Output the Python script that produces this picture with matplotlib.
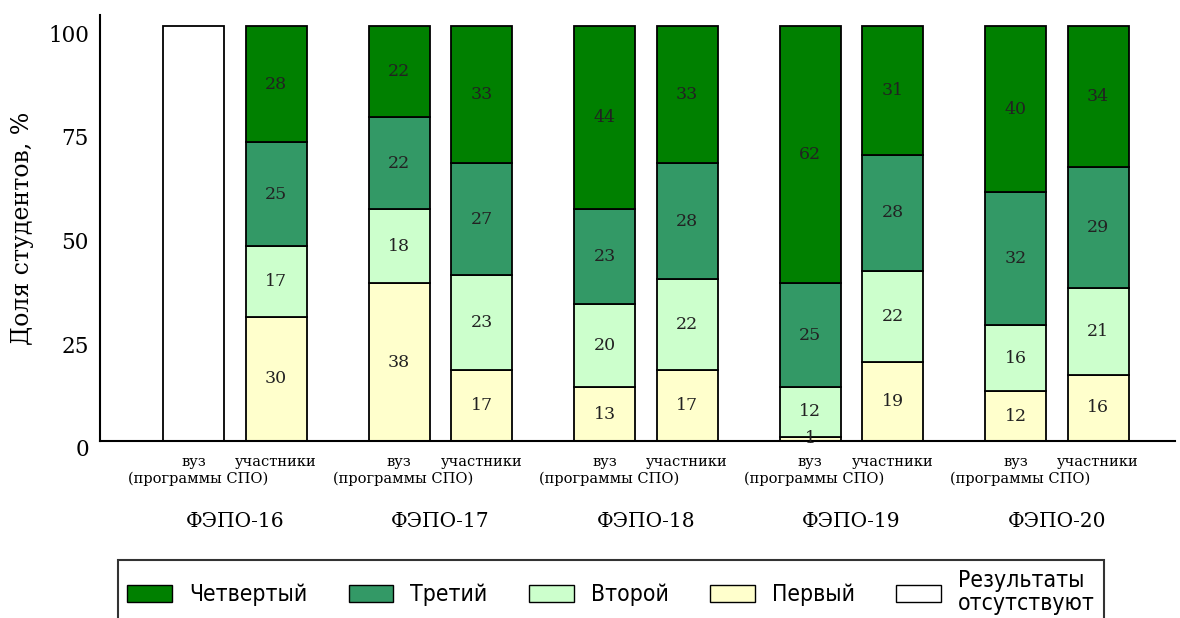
import matplotlib
matplotlib.use("Agg")
import matplotlib.pyplot as plt
import matplotlib.transforms as mtransforms
from matplotlib.patches import Patch
from matplotlib.font_manager import FontProperties
import numpy as np

groups = ["ФЭПО-16", "ФЭПО-17", "ФЭПО-18", "ФЭПО-19", "ФЭПО-20"]
sub_top = ["вуз", "участники"]
sub_bottom = "(программы СПО)"
levels = ["Первый", "Второй", "Третий", "Четвертый"]

# vuz (programs SPO) values per level; None = no results
vuz_first = [None, 38, 13, 1, 12]
vuz_second = [None, 18, 20, 12, 16]
vuz_third = [None, 22, 23, 25, 32]
vuz_fourth = [None, 22, 44, 62, 40]

part_first = [30, 17, 17, 19, 16]
part_second = [17, 23, 22, 22, 21]
part_third = [25, 27, 28, 28, 29]
part_fourth = [28, 33, 33, 31, 34]

missing_value = 100

colors = ["#ffffcc", "#ccffcc", "#339966", "#008000"]
SERIF = "DejaVu Serif"

fig = plt.figure(figsize=(11.8, 6.18), dpi=100)
ax = fig.add_axes([100/1180, 1-441/618, (1175-100)/1180, (441-15)/618])

width = 0.297
off = 0.2007
x = np.arange(len(groups))

def draw(xpos, vals):
    bottom = 0
    for v, c in zip(vals, colors):
        ax.bar(xpos, v, width, bottom=bottom, color=c, edgecolor="black", linewidth=1.3)
        ax.text(xpos, bottom + v/2, str(v), ha="center", va="center",
                fontsize=12.5, family=SERIF, color="#222222")
        bottom += v

vuz = list(zip(vuz_first, vuz_second, vuz_third, vuz_fourth))
part = list(zip(part_first, part_second, part_third, part_fourth))
for i in range(len(groups)):
    if vuz[i][0] is None:
        ax.bar(x[i]-off, missing_value, width, color="white", edgecolor="black", linewidth=1.3)
    else:
        draw(x[i]-off, vuz[i])
    draw(x[i]+off, part[i])

ax.set_xlim(-0.656, 4.575)
ax.set_ylim(0, 102.7)
ax.set_yticks([0, 25, 50, 75, 100])
ax.set_yticklabels(["0", "25", "50", "75", "100"], family=SERIF, fontsize=15.5)
ax.tick_params(axis="y", length=0, pad=8)
shift = mtransforms.ScaledTranslation(0, -7/100, fig.dpi_scale_trans)
for lab in ax.get_yticklabels():
    lab.set_transform(lab.get_transform() + shift)
ax.spines["top"].set_visible(False)
ax.spines["right"].set_visible(False)
ax.spines["left"].set_linewidth(1.5)
ax.spines["bottom"].set_linewidth(1.5)
ax.set_ylabel("Доля студентов, %", family=SERIF, fontsize=17, labelpad=10)

xt = []
xl = []
for i in range(len(groups)):
    xt += [x[i]-off, x[i]+off]
    xl += sub_top
ax.set_xticks(xt)
ax.set_xticklabels(xl, family=SERIF, fontsize=10.5)
ax.tick_params(axis="x", length=0, pad=10)

for i, g in enumerate(groups):
    ax.text(x[i]-off + 0.02, -9, sub_bottom, ha="center", va="center", fontsize=10.5,
            family=SERIF, clip_on=False)
    ax.text(x[i], -19.5, g, ha="center", va="center", fontsize=14.5,
            family=SERIF, clip_on=False)

handles = [Patch(facecolor=colors[3], edgecolor="black", label="Четвертый"),
           Patch(facecolor=colors[2], edgecolor="black", label="Третий"),
           Patch(facecolor=colors[1], edgecolor="black", label="Второй"),
           Patch(facecolor=colors[0], edgecolor="black", label="Первый"),
           Patch(facecolor="white", edgecolor="black", label="Результаты\nотсутствуют")]
lp = FontProperties(family="DejaVu Sans", stretch="condensed", size=16.5)
leg = fig.legend(handles=handles, loc="upper left", bbox_to_anchor=(118/1180, 1-560/618),
                 borderaxespad=0, ncol=5, frameon=True, fancybox=False, edgecolor="black",
                 prop=lp, handlelength=1.95, handleheight=0.75, columnspacing=1.8,
                 borderpad=0.4, handletextpad=0.75, labelspacing=0.2)
leg.get_frame().set_linewidth(1.5)
for t in leg.get_texts():
    t.set_linespacing(1.0)

fig.savefig("out.png", dpi=100)
